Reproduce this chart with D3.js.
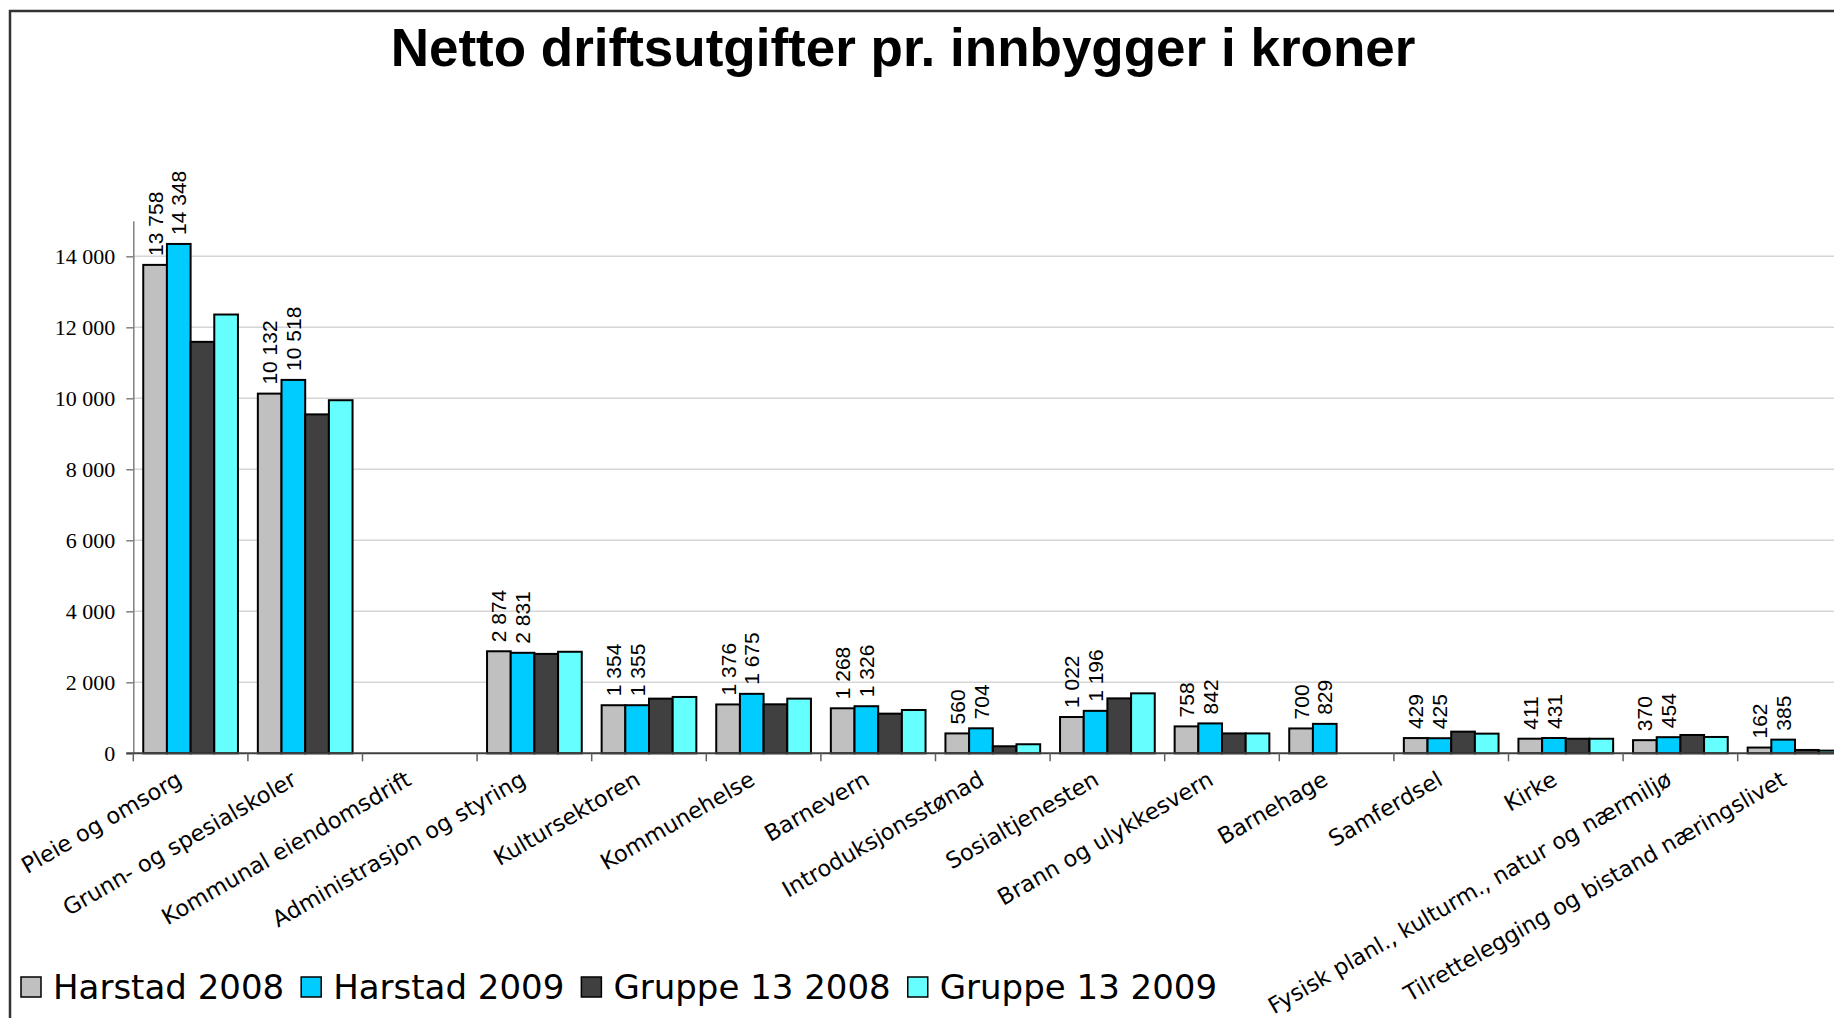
<!DOCTYPE html>
<html>
<head>
<meta charset="utf-8">
<script src="https://cdn.jsdelivr.net/npm/d3@7/dist/d3.min.js"></script>
<style>
	body { margin:0; background:#fff; }
	svg { display:block; }
</style>
</head>
<body>
<svg id="chart" width="1834" height="1018"></svg>
<script>
var title = "Netto driftsutgifter pr. innbygger i kroner";

var categories = [
	"Pleie og omsorg",
	"Grunn- og spesialskoler",
	"Kommunal eiendomsdrift",
	"Administrasjon og styring",
	"Kultursektoren",
	"Kommunehelse",
	"Barnevern",
	"Introduksjonsstønad",
	"Sosialtjenesten",
	"Brann og ulykkesvern",
	"Barnehage",
	"Samferdsel",
	"Kirke",
	"Fysisk planl., kulturm., natur og nærmiljø",
	"Tilrettelegging og bistand næringslivet"
];

var seriesNames  = ["Harstad 2008", "Harstad 2009", "Gruppe 13 2008", "Gruppe 13 2009"];
var seriesColors = ["#c0c0c0", "#00ccff", "#404040", "#66ffff"];
var seriesLabels = [true, true, false, false];

var harstad2008  = [13758, 10132, null, 2874, 1354, 1376, 1268, 560, 1022, 758, 700, 429, 411, 370, 162];
var harstad2009  = [14348, 10518, null, 2831, 1355, 1675, 1326, 704, 1196, 842, 829, 425, 431, 454, 385];
var gruppe2008   = [11590,  9547, null, 2800, 1540, 1380, 1117, 198, 1547, 560, null, 610, 410, 516,  94];
var gruppe2009   = [12360,  9946, null, 2860, 1587, 1540, 1220, 255, 1689, 560, null, 554, 410, 460,  75];

var yTicks = [0, 2000, 4000, 6000, 8000, 10000, 12000, 14000];
var yMax   = 15000;

var values = [harstad2008, harstad2009, gruppe2008, gruppe2009];

function draw() {
	var svg = d3.select("#chart");
	var W = 1834, H = 1018;

	var left = 133.3, base = 753.3, step = 114.6;
	var fmt = d3.formatLocale({decimal: ",", thousands: "\u00a0", grouping: [3], currency: ["", " kr"]}).format(",d");

	var x0 = d3.scaleBand().domain(categories)
		.range([left, left + step * categories.length])
		.paddingInner(0).paddingOuter(0);
	var x1 = d3.scaleBand().domain(seriesNames)
		.range([0, x0.bandwidth()])
		.paddingInner(0).paddingOuter(0.42);
	var y = d3.scaleLinear().domain([0, yMax]).range([base, base - 35.5 * 15]);

	// frame
	svg.append("path")
		.attr("d", "M10," + H + "V11H" + W)
		.attr("fill", "none").attr("stroke", "#333").attr("stroke-width", 2.5);

	// title
	svg.append("text")
		.attr("x", 903).attr("y", 66)
		.attr("text-anchor", "middle")
		.style("font-family", "'Liberation Sans', Arial, sans-serif")
		.style("font-weight", "bold")
		.style("font-size", "53px")
		.text(title);

	// gridlines
	svg.append("g").selectAll("line").data(yTicks.filter(function(d){ return d > 0; }))
		.enter().append("line")
		.attr("x1", left).attr("x2", W)
		.attr("y1", function(d){ return y(d); })
		.attr("y2", function(d){ return y(d); })
		.attr("stroke", "#d6d6d6").attr("stroke-width", 1.5);

	// y axis
	var yAxis = d3.axisLeft(y).tickValues(yTicks).tickFormat(fmt)
		.tickSizeInner(7).tickSizeOuter(0).tickPadding(11);
	var gy = svg.append("g").attr("transform", "translate(" + left + ",0)").call(yAxis);
	gy.select(".domain").attr("stroke", "#808080").attr("stroke-width", 1.5);
	gy.selectAll(".tick line").attr("stroke", "#808080").attr("stroke-width", 1.5);
	gy.selectAll(".tick text")
		.attr("fill", "#000")
		.style("font-family", "'Liberation Serif', 'Times New Roman', serif")
		.style("font-size", "22px");

	// bars
	var groups = svg.append("g").selectAll("g").data(categories)
		.enter().append("g")
		.attr("transform", function(d){ return "translate(" + x0(d) + ",0)"; });

	groups.selectAll("rect")
		.data(function(d, i) {
			return seriesNames.map(function(s, k) { return {s: s, k: k, v: values[k][i]}; });
		})
		.enter().filter(function(d){ return d.v !== null; }).append("rect")
		.attr("x", function(d){ return x1(d.s); })
		.attr("y", function(d){ return y(d.v); })
		.attr("width", x1.bandwidth())
		.attr("height", function(d){ return base - y(d.v); })
		.attr("fill", function(d){ return seriesColors[d.k]; })
		.attr("stroke", "#000").attr("stroke-width", 2);

	// data labels
	groups.selectAll("text.val")
		.data(function(d, i) {
			return seriesNames.map(function(s, k) { return {s: s, k: k, v: values[k][i]}; })
				.filter(function(d){ return d.v !== null && seriesLabels[d.k]; });
		})
		.enter().append("text")
		.attr("class", "val")
		.attr("transform", function(d) {
			return "translate(" + (x1(d.s) + x1.bandwidth() / 2) + "," + (y(d.v) - 9) + ") rotate(-90)";
		})
		.attr("dy", "0.36em")
		.style("font-family", "'Liberation Sans', Arial, sans-serif")
		.style("font-size", "21px")
		.text(function(d){ return fmt(d.v); });

	// x axis
	svg.append("line")
		.attr("x1", left - 7).attr("x2", W)
		.attr("y1", base).attr("y2", base)
		.attr("stroke", "#404040").attr("stroke-width", 2);
	var bounds = categories.map(function(c){ return x0(c); });
	bounds.push(x0.range()[1]);
	svg.append("g").selectAll("line").data(bounds)
		.enter().append("line")
		.attr("x1", function(d){ return d; }).attr("x2", function(d){ return d; })
		.attr("y1", base).attr("y2", base + 8)
		.attr("stroke", "#606060").attr("stroke-width", 1.5);

	svg.append("g").selectAll("text").data(categories)
		.enter().append("text")
		.attr("transform", function(d) {
			return "translate(" + (x0(d) + x0.bandwidth() / 2 - 15) + "," + (base + 17) + ") rotate(-30)";
		})
		.attr("text-anchor", "end")
		.attr("dy", "0.7em")
		.style("font-family", "'DejaVu Sans', Verdana, sans-serif")
		.style("font-size", "22.5px")
		.text(function(d){ return d; });

	// legend
	var lx = 21;
	var legend = svg.append("g");
	seriesNames.forEach(function(s, k) {
		legend.append("rect")
			.attr("x", lx).attr("y", 977)
			.attr("width", 20).attr("height", 20)
			.attr("fill", seriesColors[k])
			.attr("stroke", "#000").attr("stroke-width", 1.5);
		var t = legend.append("text")
			.attr("x", lx + 32).attr("y", 999)
			.style("font-family", "'DejaVu Sans', Verdana, sans-serif")
			.style("font-size", "34px")
			.text(s);
		lx += 32 + t.node().getComputedTextLength() + 17;
	});
	console.log("legend end", lx);
}

draw();
</script>
</body>
</html>
